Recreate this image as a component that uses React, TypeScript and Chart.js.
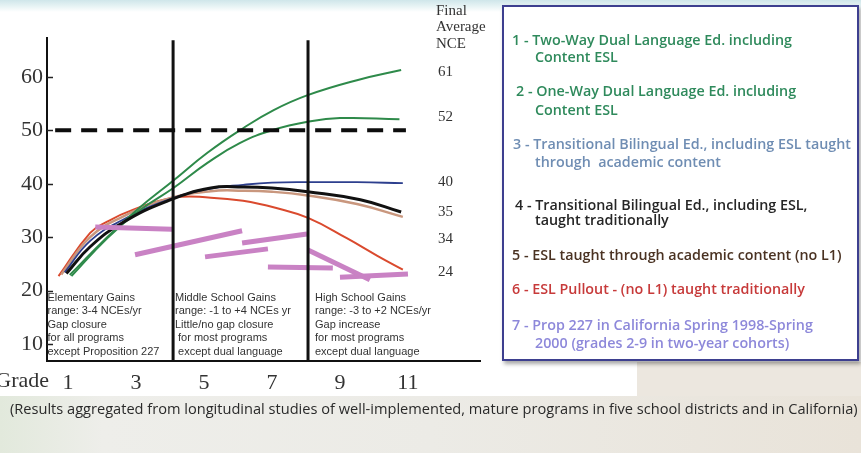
import React, { useEffect, useRef } from "react";
import { Chart, registerables } from "chart.js";

Chart.register(...registerables);

// ---------------- data ----------------
const gradeTicks = [1, 3, 5, 7, 9, 11];
const nceTicks = [10, 20, 30, 40, 50, 60];

const twoWayGrades = [1.05, 2.15, 3.1, 4.1, 5.1, 6.15, 7.05, 8.05, 9.5, 10.8];
const twoWayNce = [22.9, 30.0, 35.5, 40.6, 45.8, 50.4, 53.8, 56.6, 59.4, 61.3];

const oneWayGrades = [1.1, 2.15, 3.1, 4.1, 5.1, 6.05, 7.05, 8.05, 9.0, 10.75];
const oneWayNce = [22.7, 29.8, 35.0, 39.2, 43.9, 47.6, 50.1, 51.6, 52.3, 52.1];

const tbeContentGrades = [0.9, 1.65, 2.6, 3.9, 5.2, 6.15, 7.0, 8.05, 9.5, 10.85];
const tbeContentNce = [23.4, 29.3, 33.2, 36.9, 39.1, 39.8, 40.2, 40.3, 40.3, 40.1];

const tbeTradGrades = [0.95, 1.65, 2.6, 3.9, 5.2, 6.15, 7.0, 8.05, 9.6, 10.8];
const tbeTradNce = [23.2, 28.2, 32.7, 36.7, 39.2, 39.4, 39.2, 38.5, 37.0, 34.7];

const eslContentGrades = [0.8, 1.65, 2.6, 3.9, 5.2, 6.15, 7.0, 8.05, 9.5, 10.85];
const eslContentNce = [23.0, 30.0, 33.8, 37.1, 38.6, 38.7, 38.5, 37.8, 36.2, 33.8];

const pulloutGrades = [0.72, 1.65, 2.15, 2.9, 4.1, 5.2, 6.15, 7.1, 8.06, 9.2, 10.1, 10.85];
const pulloutNce = [22.7, 30.8, 32.9, 35.1, 37.4, 37.4, 36.8, 35.5, 33.6, 29.8, 26.5, 23.9];

// Prop 227 two-year cohort segments (start / end)
const prop227StartGrade = [1.8, 2.97, 5.03, 6.12, 6.88, 8.06, 9.0];
const prop227StartNce = [31.9, 26.7, 26.3, 28.9, 24.4, 27.6, 22.5];
const prop227EndGrade = [4.06, 6.12, 6.88, 8.03, 8.79, 9.88, 11.0];
const prop227EndNce = [31.5, 31.2, 27.8, 30.6, 24.2, 22.0, 23.1];

const nationalAverage = 50;
const averageLineGrades = [0.62, 10.94];
const schoolBoundaryGrades = [4.09, 8.06];

const finalNceLabels = ["61", "52", "40", "35", "34", "24"];

const regionTexts = [
  ["Elementary Gains", "range: 3-4 NCEs/yr", "Gap closure", "for all programs", "except Proposition 227"],
  ["Middle School Gains", "range: -1 to +4 NCEs yr", "Little/no gap closure", " for most programs", " except dual language"],
  ["High School Gains", "range: -3 to +2 NCEs/yr", "Gap increase", "for most programs", "except dual language"],
];

const legendEntries = [
  ["1 - Two-Way Dual Language Ed. including", "Content ESL"],
  ["2 - One-Way Dual Language Ed. including", "Content ESL"],
  ["3 - Transitional Bilingual Ed., including ESL taught", "through  academic content"],
  ["4 - Transitional Bilingual Ed., including ESL,", "taught traditionally"],
  ["5 - ESL taught through academic content (no L1)"],
  ["6 - ESL Pullout - (no L1) taught traditionally"],
  ["7 - Prop 227 in California Spring 1998-Spring", "2000 (grades 2-9 in two-year cohorts)"],
];
const legendColors = ["#2f8a5c", "#2f8a5c", "#6f8db3", "#262626", "#4a3222", "#c73a3a", "#8d88da"];

const caption =
  "(Results aggregated from longitudinal studies of well-implemented, mature programs in five school districts and in California)";

// ---------------- layout / style ----------------
const SERIF = '"Liberation Serif", "Times New Roman", serif';
const SANS = '"Liberation Sans", Arial, sans-serif';
const regionX = [47.5, 175, 315];
const regionTop = 298;
const regionStep = 13.4;
const finalLabelY = [72, 117, 182, 212, 239, 272];
const legendLineTops = [[40, 57], [91, 110], [144, 162], [205, 220], [255], [289], [325, 343]];
const legendFirstX = [512, 516, 513, 515, 512, 512, 512];

const pts = (xs: number[], ys: number[]) => xs.map((x, i) => ({ x, y: ys[i] }));

const slidePlugin = {
  id: "slideText",
  beforeDraw(chart: any) {
    const ctx = chart.ctx;
    ctx.save();
    ctx.fillStyle = "#333";
    ctx.font = `11px ${SANS}`;
    ctx.textBaseline = "middle";
    ctx.textAlign = "left";
    regionTexts.forEach((lines, r) => {
      lines.forEach((t, i) => ctx.fillText(t, regionX[r], regionTop + i * regionStep));
    });
    ctx.restore();
  },
  afterDraw(chart: any) {
    const ctx = chart.ctx;
    const y = chart.scales.y;
    const x = chart.scales.x;
    ctx.save();
    // inward y tick marks
    ctx.strokeStyle = "#222";
    ctx.lineWidth = 1.5;
    nceTicks.forEach((v) => {
      const py = Math.round(y.getPixelForValue(v)) + 0.5;
      ctx.beginPath();
      ctx.moveTo(x.left, py);
      ctx.lineTo(x.left + 6, py);
      ctx.stroke();
    });
    ctx.fillStyle = "#333";
    ctx.textBaseline = "middle";
    // Grade label
    ctx.font = `22px ${SERIF}`;
    ctx.textAlign = "right";
    ctx.fillText("Grade", x.left + 2, 381);
    // Final average NCE heading
    ctx.textAlign = "left";
    ctx.font = `15px ${SERIF}`;
    ["Final", "Average", "NCE"].forEach((t, i) => ctx.fillText(t, 436, 11 + i * 16.5));
    finalNceLabels.forEach((t, i) => ctx.fillText(t, 438, finalLabelY[i]));
    ctx.restore();
  },
};

export default function App() {
  const ref = useRef<HTMLCanvasElement | null>(null);

  useEffect(() => {
    if (!ref.current) return;
    const curve = (label: string, xs: number[], ys: number[], color: string, width: number) => ({
      label,
      data: pts(xs, ys),
      borderColor: color,
      borderWidth: width,
      pointRadius: 0,
      tension: 0.45,
      fill: false,
    });
    const straight = (label: string, data: any[], color: string, width: number, dash: number[] = []) => ({
      label,
      data,
      borderColor: color,
      borderWidth: width,
      borderDash: dash,
      pointRadius: 0,
      tension: 0,
      fill: false,
      borderCapStyle: "butt" as const,
    });

    const datasets: any[] = [
      straight(
        "National average",
        averageLineGrades.map((g) => ({ x: g, y: nationalAverage })),
        "#0d0d0d",
        4,
        [16, 10]
      ),
      ...schoolBoundaryGrades.map((g, i) =>
        straight(`Boundary ${i + 1}`, [{ x: g, y: 6.8 }, { x: g, y: 66.9 }], "#111", 3)
      ),
      ...prop227StartGrade.map((g, i) =>
        straight(
          `7 - Prop 227 cohort ${i + 1}`,
          [
            { x: g, y: prop227StartNce[i] },
            { x: prop227EndGrade[i], y: prop227EndNce[i] },
          ],
          "#c982c4",
          5
        )
      ),
      curve("4 - Transitional Bilingual Ed., traditional", tbeTradGrades, tbeTradNce, "#111111", 3),
      curve("1 - Two-Way Dual Language", twoWayGrades, twoWayNce, "#2e8a4a", 2),
      curve("2 - One-Way Dual Language", oneWayGrades, oneWayNce, "#2e8a4a", 2),
      curve("3 - Transitional Bilingual Ed., content", tbeContentGrades, tbeContentNce, "#2d3f8e", 1.8),
      curve("5 - ESL content", eslContentGrades, eslContentNce, "#c9977e", 2.5),
      curve("6 - ESL Pullout", pulloutGrades, pulloutNce, "#da4a2e", 2),
    ];

    const chart = new Chart(ref.current, {
      type: "line",
      data: { datasets },
      options: {
        animation: false,
        responsive: false,
        maintainAspectRatio: false,
        events: [],
        layout: { padding: { left: 0, top: 38, right: 381, bottom: 0 } },
        plugins: { legend: { display: false }, tooltip: { enabled: false }, title: { display: false } },
        scales: {
          x: {
            type: "linear",
            min: 0.38,
            max: 13.12,
            afterBuildTicks: (s: any) => {
              s.ticks = gradeTicks.map((v) => ({ value: v }));
            },
            afterFit: (s: any) => {
              s.height = 92;
            },
            grid: { display: false, drawTicks: false },
            border: { display: true, color: "#111", width: 2 },
            ticks: {
              autoSkip: false,
              maxRotation: 0,
              padding: 9,
              color: "#333",
              font: { family: SERIF, size: 22 },
              callback: (v: any) => String(v),
            },
          },
          y: {
            type: "linear",
            min: 6.8,
            max: 67.3,
            afterBuildTicks: (s: any) => {
              s.ticks = nceTicks.map((v) => ({ value: v }));
            },
            afterFit: (s: any) => {
              s.width = 47;
            },
            grid: { display: false, drawTicks: false },
            border: { display: true, color: "#111", width: 2 },
            ticks: {
              padding: 4,
              color: "#333",
              font: { family: SERIF, size: 22 },
              callback: (v: any) => String(v),
            },
          },
        },
      },
      plugins: [slidePlugin],
    });
    return () => chart.destroy();
  }, []);

  return (
    <div style={{ position: "absolute", left: 0, top: 0, width: 861, height: 453, overflow: "hidden", background: "#fff" }}>
      <div
        style={{
          position: "absolute",
          left: 0,
          top: 0,
          width: 861,
          height: 12,
          background: "linear-gradient(to bottom, #cfe6ea 0%, #e6f3f4 50%, rgba(255,255,255,0) 100%)",
        }}
      />
      <div style={{ position: "absolute", left: 637, top: 362, width: 224, height: 40, background: "#ece7df" }} />
      <div
        style={{
          position: "absolute",
          left: 0,
          top: 396,
          width: 861,
          height: 57,
          background: "linear-gradient(to right, #e2e9dc 0%, #eeeeea 12%, #ecebe6 50%, #e9e3d9 100%)",
        }}
      />
      <canvas ref={ref} width={861} height={453} style={{ position: "absolute", left: 0, top: 0, width: 861, height: 453 }} />
      <div
        style={{
          position: "absolute",
          left: 502,
          top: 5,
          width: 357,
          height: 356,
          boxSizing: "border-box",
          border: "2px solid #3d3f8f",
          background: "#fff",
          boxShadow: "2px 3px 4px rgba(0,0,0,0.35)",
        }}
      />
      {legendEntries.map((lines, i) =>
        lines.map((t, j) => (
          <div
            key={`${i}-${j}`}
            style={{
              position: "absolute",
              left: j === 0 ? legendFirstX[i] : 535,
              top: legendLineTops[i][j] - 10,
              height: 20,
              lineHeight: "20px",
              whiteSpace: "pre",
              fontFamily: '"Open Sans", "Noto Sans", sans-serif',
              fontWeight: 600,
              fontSize: 14.3,
              color: legendColors[i],
            }}
          >
            {t}
          </div>
        ))
      )}
      <div
        style={{
          position: "absolute",
          left: 10,
          top: 397,
          height: 22,
          lineHeight: "22px",
          whiteSpace: "pre",
          fontFamily: '"Open Sans", "Noto Sans", sans-serif',
          fontSize: 14.6,
          color: "#2a2a2a",
        }}
      >
        {caption}
      </div>
    </div>
  );
}
